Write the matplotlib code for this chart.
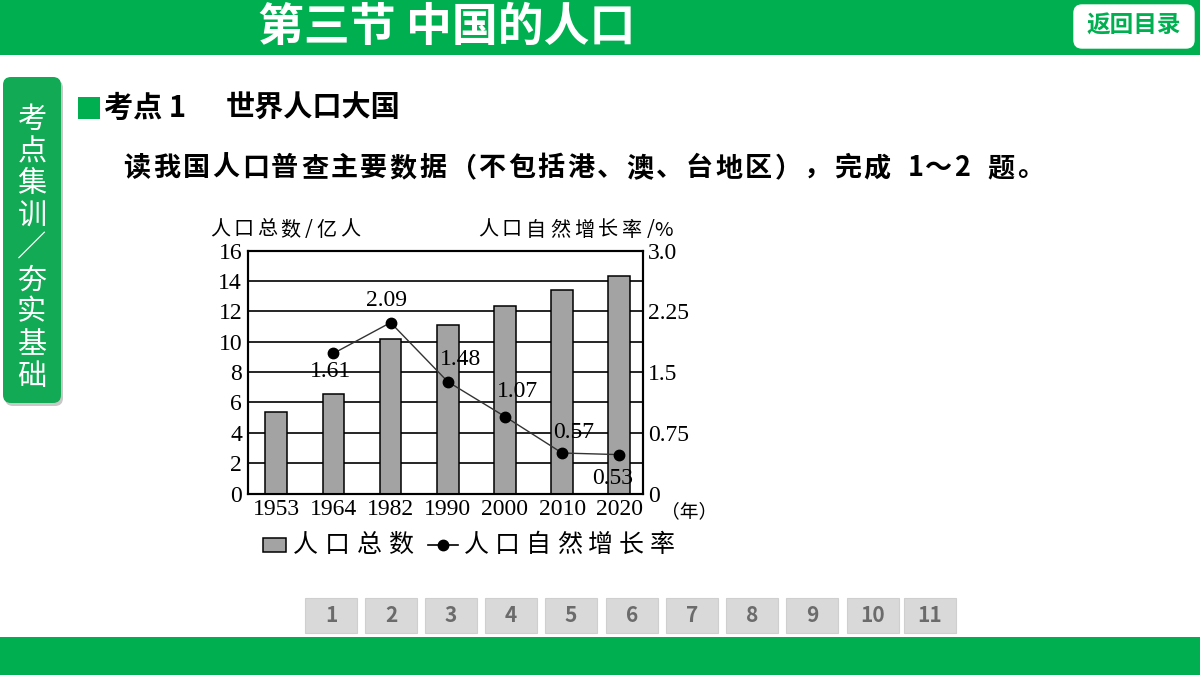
import numpy as np
import matplotlib.pyplot as plt
from matplotlib.patches import Rectangle, FancyBboxPatch
from matplotlib.lines import Line2D

plt.rcParams['font.family'] = ['Noto Sans CJK SC', 'DejaVu Sans']
SERIF = ['Liberation Serif', 'Noto Sans CJK SC']

# data
years = ['1953', '1964', '1982', '1990', '2000', '2010', '2020']
population = [5.35, 6.52, 10.14, 11.12, 12.35, 13.43, 14.30]   # 亿人
rate_years = ['1964', '1982', '1990', '2000', '2010', '2020']
rate = [1.73, 2.11, 1.38, 0.95, 0.50, 0.48]                    # where the dots sit
rate_labels = ['1.61', '2.09', '1.48', '1.07', '0.57', '0.53']
left_ticks = [0, 2, 4, 6, 8, 10, 12, 14, 16]
right_ticks = [0, 0.75, 1.5, 2.25, 3.0]
right_tick_labels = ['0', '0.75', '1.5', '2.25', '3.0']
nav_pages = ['1', '2', '3', '4', '5', '6', '7', '8', '9', '10', '11']

GREEN = '#00B050'
BAR_GREY = '#a3a3a3'

fig = plt.figure(figsize=(12, 6.75), dpi=100)

# slide background in pixel coords
bg = fig.add_axes([0, 0, 1, 1])
bg.set_xlim(0, 1200)
bg.set_ylim(675, 0)
bg.axis('off')


def spaced(x, y, s, step, **kw):
    # draw characters one by one with a fixed pitch (letter spacing)
    for ch in s:
        w = step if ord(ch) > 255 else step * 0.55
        bg.text(x + w / 2, y, ch, ha='center', va='center', **kw)
        x += w


# top bar
bg.add_patch(Rectangle((0, 0), 1200, 55, color=GREEN, lw=0))
bg.text(447, 28, '第三节 中国的人口', color='white', fontsize=33,
        fontweight='bold', ha='center', va='center')
bg.add_patch(FancyBboxPatch((1074, 5), 120, 43, boxstyle='round,pad=0,rounding_size=8',
                            fc='white', ec='white'))
bg.text(1134, 26, '返回目录', color=GREEN, fontsize=17, fontweight='bold',
        ha='center', va='center')

# left side tab
bg.add_patch(FancyBboxPatch((5, 80), 58, 326, boxstyle='round,pad=0,rounding_size=8',
                            fc='#c8c8c8', ec='none'))
bg.add_patch(FancyBboxPatch((3, 77), 58, 326, boxstyle='round,pad=0,rounding_size=8',
                            fc='#12AA55', ec='none'))
for k, ch in enumerate('考点集训／夯实基础'):
    bg.text(32, 120 + 32.1 * k, ch, color='white', fontsize=21,
            ha='center', va='center')

# heading + question
bg.add_patch(Rectangle((78, 97), 22, 22, color=GREEN, lw=0))
bg.text(104, 108, '考点 1', fontsize=21, fontweight='bold', ha='left', va='center')
bg.text(226, 108, '世界人口大国', fontsize=21, fontweight='bold', ha='left', va='center')
spaced(122, 168, '读我国人口普查主要数据（不包括港、澳、台地区），完成 1～2 题。',
       29.6, fontsize=19.5, fontweight='bold')

# bottom page buttons
nav_x = [331, 391, 451, 511, 571, 632, 692, 752, 812, 873, 930]
for cx, lab in zip(nav_x, nav_pages):
    bg.add_patch(Rectangle((cx - 26, 598), 52, 35, fc='#d9d9d9', ec='#cfcfcf', lw=0.8))
    bg.text(cx, 616, lab, color='#6b6b6b', fontsize=15, fontweight='bold',
            ha='center', va='center')
bg.add_patch(Rectangle((0, 637), 1200, 38, color=GREEN, lw=0))

# chart
ax = fig.add_axes([247.7 / 1200, 1 - 493.5 / 675, 395 / 1200, 243 / 675])
x = np.arange(len(years))
ax.bar(x, population, width=0.38, color=BAR_GREY, edgecolor='black', lw=1.1, zorder=3)
ax.set_xlim(-0.5, 6.41)
ax.set_ylim(0, 16)
ax.set_yticks(left_ticks)
ax.set_xticks(x)
ax.set_xticklabels(years)
ax.yaxis.grid(True, color='black', lw=1.2)
ax.set_axisbelow(True)
ax.tick_params(length=0, labelsize=17)
ax.tick_params(axis='y', pad=4)
ax.tick_params(axis='x', pad=4)
for lab in ax.get_xticklabels() + ax.get_yticklabels():
    lab.set_family(SERIF)
for sp in ax.spines.values():
    sp.set_linewidth(1.5)

ax2 = ax.twinx()
rx = [years.index(y) for y in rate_years]
ax2.plot(rx, rate, color='#333333', lw=1.0, marker='o', ms=7.5,
         mfc='black', mec='black', zorder=5)
ax2.set_ylim(0, 3.0)
ax2.set_yticks(right_ticks)
ax2.set_yticklabels(right_tick_labels)
ax2.tick_params(length=0, labelsize=17, pad=4)
for lab in ax2.get_yticklabels():
    lab.set_family(SERIF)
for sp in ax2.spines.values():
    sp.set_linewidth(1.5)

offsets = [(-3, -18), (-4, 22), (13, 22), (13, 25), (12, 20), (-7, -24)]
for xi, yi, lab, off in zip(rx, rate, rate_labels, offsets):
    ax2.annotate(lab, (xi, yi), xytext=off, textcoords='offset pixels',
                 ha='center', va='center', fontsize=17, family=SERIF, zorder=6)

# axis titles and legend
spaced(208, 230, '人口总数/亿人', 23.5, fontsize=14.5)
spaced(476, 230, '人口自然增长率/%', 24, fontsize=14.5)
bg.text(689, 512, '（年）', fontsize=13.5, ha='center', va='center')

bg.add_patch(Rectangle((263, 538), 23, 14, fc=BAR_GREY, ec='black', lw=1.1))
spaced(289, 545, '人口总数', 32, fontsize=18)
bg.add_line(Line2D([428, 458], [545, 545], color='black', lw=1.2))
bg.plot([443], [545], 'o', color='black', ms=7.5)
spaced(461, 545, '人口自然增长率', 31, fontsize=18)

fig.savefig('out.png', dpi=100)
